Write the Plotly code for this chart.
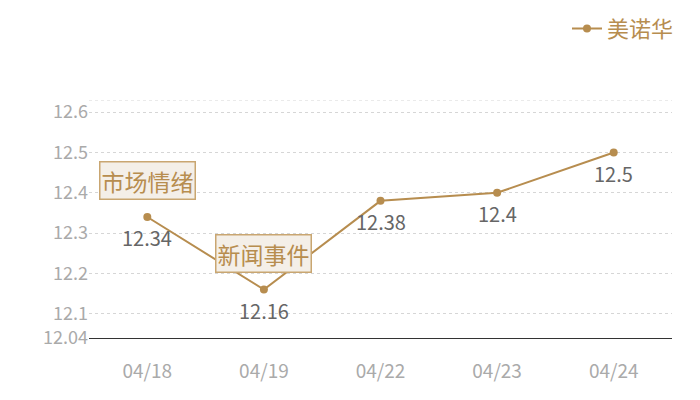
import plotly.graph_objects as go

# 美诺华 股价
dates = ['04/18', '04/19', '04/22', '04/23', '04/24']
prices = [12.34, 12.16, 12.38, 12.4, 12.5]

# 事件标注
note_dates = ['04/18', '04/19']
note_y = [12.43, 12.25]
note_text = ['市场情绪', '新闻事件']

y_ticks = [12.04, 12.1, 12.2, 12.3, 12.4, 12.5, 12.6]

gold = '#b78d4f'
font = 'Noto Sans CJK SC'

fig = go.Figure()
fig.add_trace(go.Scatter(
    x=dates, y=prices, name='美诺华',
    mode='lines+markers',
    line=dict(color=gold, width=2),
    marker=dict(color=gold, size=8),
    cliponaxis=False,
))

# 数值标签（点下方）
for d, p in zip(dates, prices):
    fig.add_annotation(
        x=d, y=p, text=str(p), showarrow=False, yshift=-21,
        font=dict(color='#666666', size=20, family=font),
    )

for d, yv, t in zip(note_dates, note_y, note_text):
    fig.add_annotation(
        x=d, y=yv, text=t, showarrow=False,
        font=dict(color=gold, size=23, family=font),
        bgcolor='#f4efe8', bordercolor='#c9a671', borderwidth=1.5, borderpad=1,
    )

# page body has an 8px margin, so the margins are offset by it
fig.update_layout(
    width=700, height=400,
    margin=dict(l=81, r=36, t=92, b=70, autoexpand=False),
    paper_bgcolor='white', plot_bgcolor='white',
    font=dict(family=font),
    showlegend=True,
    legend=dict(x=1.012, xanchor='right', y=1.388, yanchor='top',
                font=dict(color=gold, size=22, family=font),
                bgcolor='rgba(0,0,0,0)'),
)
fig.update_xaxes(
    type='category', range=[-0.5, 4.5], automargin=False,
    showgrid=False, showline=True, linecolor='#333333', linewidth=1,
    ticks='', tickfont=dict(color='#aaaaaa', size=19),
    ticklabelstandoff=16, zeroline=False,
)
fig.update_yaxes(
    range=[12.04, 12.63], tickvals=y_ticks, automargin=False,
    ticktext=[str(v) for v in y_ticks],
    showgrid=True, gridcolor='#d6d6d6', griddash='dot', gridwidth=1,
    ticks='', tickfont=dict(color='#aaaaaa', size=18),
    zeroline=False, showline=False,
)
# top border line of grid
fig.add_hline(y=12.63, line=dict(color='#d6d6d6', width=1, dash='dot'))

fig.write_html('out.html')
